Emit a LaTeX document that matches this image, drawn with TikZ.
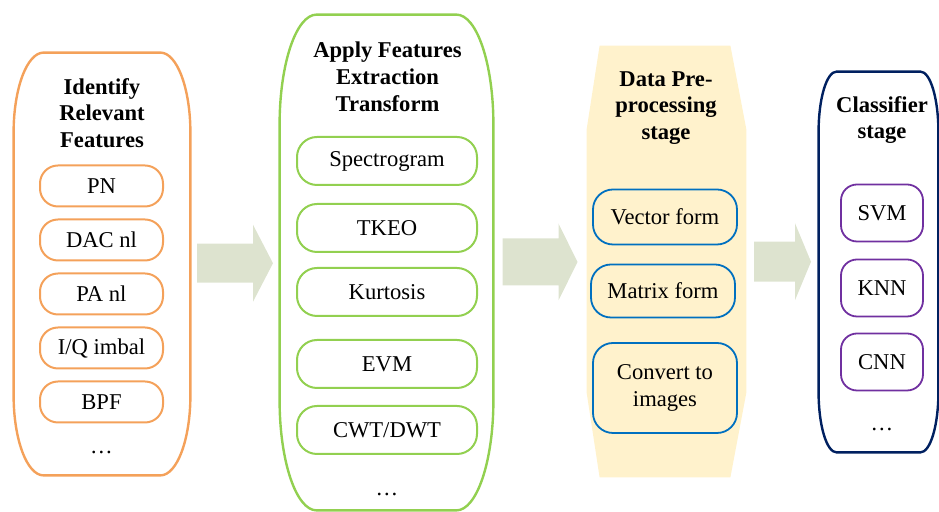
\documentclass[tikz,border=0pt]{standalone}
\usepackage{fontspec}
\setmainfont{Liberation Serif}
\usetikzlibrary{calc}

\definecolor{featorange}{HTML}{F4A15A}
\definecolor{extrgreen}{HTML}{92D050}
\definecolor{prepyellow}{HTML}{FFF2CC}
\definecolor{prepblue}{HTML}{0070C0}
\definecolor{clasnavy}{HTML}{002060}
\definecolor{claspurple}{HTML}{7030A0}
\definecolor{arrowgrey}{HTML}{DDE3CF}

% outline of a stage: box with elliptical corners
\newcommand{\stageoutline}[4]{%
  \draw[#4] ([xshift=#2]#1.north west) -- ([xshift=-#2]#1.north east)
    arc[start angle=90, end angle=0, x radius=#2, y radius=#3]
    -- ([yshift=#3]#1.south east)
    arc[start angle=0, end angle=-90, x radius=#2, y radius=#3]
    -- ([xshift=#2]#1.south west)
    arc[start angle=270, end angle=180, x radius=#2, y radius=#3]
    -- ([yshift=-#3]#1.north west)
    arc[start angle=180, end angle=90, x radius=#2, y radius=#3] -- cycle;}

\begin{document}
\begin{tikzpicture}[x=0.5pt,y=-0.5pt,
        every node/.style={font=\fontsize{11.3}{13.4}\selectfont},
        stage/.style={inner sep=0pt,draw=none},
        title/.style={align=center,font=\fontsize{11.3}{13.4}\selectfont\bfseries},
        featbox/.style={draw=featorange,line width=1pt,rounded corners=9pt,
            minimum width=61.5pt,minimum height=20.5pt,inner sep=0pt},
        extrbox/.style={draw=extrgreen,line width=1pt,rounded corners=10pt,
            minimum width=90pt,minimum height=24pt,inner sep=0pt},
        prepbox/.style={draw=prepblue,line width=0.9pt,rounded corners=10pt,
            minimum width=72pt,inner sep=0pt,align=center},
        clasbox/.style={draw=claspurple,line width=0.9pt,rounded corners=8pt,
            minimum width=41pt,minimum height=28.5pt,inner sep=0pt}]
\useasboundingbox (0,0) rectangle (939,512);

% stages
\node[stage,minimum width=88pt,minimum height=211pt] (feat) at (102,264) {};
\node[stage,minimum width=106.5pt,minimum height=247.5pt] (extr) at (386.5,262.5) {};
\node[stage,minimum width=79.5pt,minimum height=215.5pt] (prep) at (666.5,261.5) {};
\node[stage,minimum width=59.5pt,minimum height=190pt] (clas) at (878.5,262) {};

\stageoutline{feat}{15pt}{40pt}{featorange,line width=1.2pt}
\stageoutline{extr}{18.5pt}{55pt}{extrgreen,line width=1.2pt}
\stageoutline{clas}{9pt}{30pt}{clasnavy,line width=1.2pt}
\fill[prepyellow] ([xshift=6.5pt]prep.north west) -- ([xshift=-8pt]prep.north east)
    -- ([yshift=-42pt]prep.north east) -- ([yshift=42.5pt]prep.south east)
    -- ([xshift=-8pt]prep.south east) -- ([xshift=6.5pt]prep.south west)
    -- ([yshift=42.5pt]prep.south west) -- ([yshift=-42pt]prep.north west) -- cycle;

% titles
\node[title] (featT) at (102,113) {Identify\\Relevant\\Features};
\node[title] (extrT) at (387.5,77) {Apply Features\\Extraction\\Transform};
\node[title] (prepT) at (666,108) {Data Pre-\\processing\\stage};
\node[title] (clasT) at (882,120) {Classifier\\stage};

% identify relevant features
\node[featbox] (pn) at (101.5,186) {PN};
\node[featbox] (dac) at (101.5,240) {DAC nl};
\node[featbox] (pa) at (101.5,294) {PA nl};
\node[featbox] (iq) at (101.5,348) {I/Q imbal};
\node[featbox] (bpf) at (101.5,402) {BPF};
\node (featD) at (101.5,452) {\ldots};

% feature extraction
\node[extrbox] (spec) at (387,161) {Spectrogram};
\node[extrbox] (tkeo) at (387,228) {TKEO};
\node[extrbox] (kurt) at (387,292) {Kurtosis};
\node[extrbox] (evm) at (387,364) {EVM};
\node[extrbox] (cwt) at (387,430) {CWT/DWT};
\node (extrD) at (387,494) {\ldots};

% pre-processing
\node[prepbox,minimum height=27.5pt] (vec) at (665,217) {Vector form};
\node[prepbox,minimum height=26.5pt] (mat) at (663,291) {Matrix form};
\node[prepbox,minimum height=45pt] (img) at (665,388) {Convert to\\images};

% classifiers
\node[clasbox] (svm) at (882,213) {SVM};
\node[clasbox] (knn) at (882,288) {KNN};
\node[clasbox] (cnn) at (882,362) {CNN};
\node (clasD) at (882,429) {\ldots};

% arrows between stages
\coordinate (a1) at ($(feat.east)!0.5!(extr.west)$);
\coordinate (a2) at ($(extr.east)!0.5!(prep.west)$);
\coordinate (a3) at ($(prep.east)!0.5!(clas.west)$);
\fill[arrowgrey] (a1) ++(-38,-19.5) -- ++(56,0) -- ++(0,-19) -- ++(20,38.5)
    -- ++(-20,38.5) -- ++(0,-19) -- ++(-56,0) -- cycle;
\fill[arrowgrey] (a2) ++(-37.5,-23.5) -- ++(56,0) -- ++(0,-15) -- ++(19,38.5)
    -- ++(-19,38.5) -- ++(0,-15) -- ++(-56,0) -- cycle;
\fill[arrowgrey] (a3) ++(-28.5,-20) -- ++(41,0) -- ++(0,-18.5) -- ++(16,38.5)
    -- ++(-16,38.5) -- ++(0,-18.5) -- ++(-41,0) -- cycle;

\end{tikzpicture}
\end{document}
